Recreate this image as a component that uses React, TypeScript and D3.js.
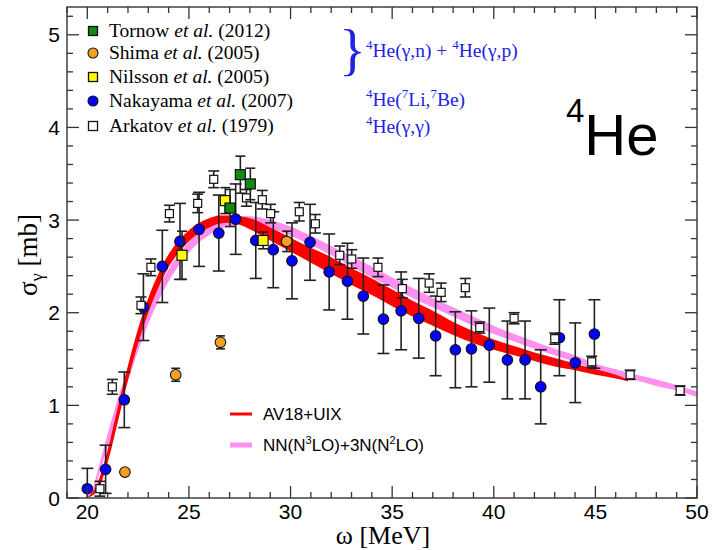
import React from 'react';
import * as d3 from 'd3';

// theory bands: energy grid, lower and upper edge (mb)
const av18E = [20.0, 20.5, 21.0, 21.5, 22.0, 22.5, 23.0, 23.5, 24.0, 24.5, 25.0, 25.5, 26.0, 26.5, 27.0, 27.5, 28, 29, 30, 31, 32, 33, 34, 35, 36, 37, 38, 39, 40, 41, 42, 43, 44, 45, 46, 46.6];
const av18Lo = [0, 0.08, 0.38, 0.82, 1.27, 1.67, 2.0, 2.27, 2.49, 2.65, 2.77, 2.86, 2.92, 2.96, 2.97, 2.95, 2.9, 2.78, 2.66, 2.54, 2.42, 2.3, 2.19, 2.07, 1.96, 1.86, 1.76, 1.67, 1.6, 1.54, 1.48, 1.42, 1.38, 1.33, 1.29, 1.26];
const av18Hi = [0, 0.16, 0.52, 0.98, 1.43, 1.83, 2.16, 2.42, 2.63, 2.78, 2.89, 2.97, 3.02, 3.05, 3.05, 3.04, 3.02, 2.92, 2.81, 2.7, 2.6, 2.48, 2.37, 2.25, 2.13, 2.02, 1.9, 1.8, 1.71, 1.64, 1.57, 1.51, 1.45, 1.39, 1.33, 1.28];

const chiE = [20.0, 20.3, 20.6, 21.0, 21.5, 22.0, 22.5, 23.0, 23.5, 24.0, 24.5, 25.0, 25.5, 26.0, 26.5, 27.0, 27.5, 28, 29, 30, 31, 32, 33, 34, 35, 36, 37, 38, 39, 40, 41, 42, 43, 44, 45, 46, 47, 48, 49, 50];
const chiLo = [0, 0.06, 0.27, 0.55, 0.91, 1.26, 1.59, 1.88, 2.13, 2.34, 2.51, 2.65, 2.76, 2.84, 2.9, 2.93, 2.95, 2.95, 2.91, 2.83, 2.73, 2.62, 2.5, 2.38, 2.27, 2.16, 2.06, 1.96, 1.86, 1.77, 1.69, 1.61, 1.54, 1.47, 1.38, 1.32, 1.27, 1.21, 1.16, 1.09];
const chiHi = [0.02, 0.13, 0.37, 0.69, 1.07, 1.41, 1.74, 2.03, 2.27, 2.47, 2.63, 2.76, 2.87, 2.95, 3.0, 3.03, 3.04, 3.04, 3.0, 2.93, 2.83, 2.72, 2.61, 2.5, 2.38, 2.27, 2.16, 2.06, 1.96, 1.86, 1.77, 1.69, 1.61, 1.54, 1.45, 1.39, 1.33, 1.28, 1.22, 1.15];

// measurements
const tornowE = [27.53, 28.02, 27.02];
const tornowS = [3.49, 3.39, 3.13];
const tornowErr = [0.2, 0.17, 0.2];

const shimaE = [21.85, 24.35, 26.55, 29.81];
const shimaS = [0.28, 1.33, 1.68, 2.77];
const shimaErr = [0.02, 0.07, 0.07, 0.11];

const nilssonE = [24.66, 26.79, 28.65];
const nilssonS = [2.62, 3.21, 2.78];
const nilssonErr = [0.26, 0.14, 0.09];

const nakaE = [20.0, 20.9, 21.82, 22.76, 23.69, 24.56, 25.5, 26.47, 27.3, 28.29, 29.15, 30.07, 30.96, 31.9, 32.8, 33.58, 34.57, 35.44, 36.31, 37.14, 38.11, 38.9, 39.78, 40.67, 41.54, 42.31, 43.23, 44.01, 44.95];
const nakaS = [0.1, 0.31, 1.06, 2.06, 2.5, 2.77, 2.9, 2.86, 3.01, 2.78, 2.68, 2.56, 2.76, 2.44, 2.34, 2.18, 1.93, 2.02, 1.94, 1.75, 1.6, 1.61, 1.65, 1.49, 1.49, 1.2, 1.73, 1.46, 1.77];
const nakaErr = [0.22, 0.26, 0.3, 0.36, 0.39, 0.41, 0.4, 0.41, 0.38, 0.41, 0.41, 0.41, 0.41, 0.41, 0.41, 0.41, 0.37, 0.42, 0.43, 0.43, 0.41, 0.41, 0.4, 0.42, 0.42, 0.4, 0.41, 0.43, 0.37];

const arkE = [20.62, 21.23, 22.64, 23.13, 24.04, 25.43, 26.22, 27.83, 28.61, 29.02, 30.43, 31.22, 32.42, 33.01, 34.3, 35.5, 36.82, 37.41, 38.6, 39.31, 41.0, 43.0, 44.82, 46.71, 49.17];
const arkS = [0.1, 1.2, 2.08, 2.49, 3.07, 3.18, 3.44, 3.24, 3.22, 3.07, 3.09, 2.96, 2.62, 2.58, 2.49, 2.26, 2.32, 2.22, 2.27, 1.84, 1.94, 1.72, 1.47, 1.33, 1.16];
const arkErr = [0.08, 0.08, 0.09, 0.09, 0.09, 0.1, 0.09, 0.09, 0.1, 0.1, 0.1, 0.1, 0.1, 0.1, 0.1, 0.1, 0.1, 0.1, 0.1, 0.06, 0.06, 0.06, 0.06, 0.05, 0.05];

const xMajor = [20, 25, 30, 35, 40, 45, 50];
const yMajor = [0, 1, 2, 3, 4, 5];

const W = 712;
const H = 550;
const left = 67, right = 697, top = 7, bottom = 498;

const x = d3.scaleLinear().domain([19, 50]).range([left, right]);
const y = d3.scaleLinear().domain([0, 5.3]).range([bottom, top]);

const serif = '"Liberation Serif", "Times New Roman", serif';
const sans = '"Liberation Sans", Arial, Helvetica, sans-serif';

type Band = { e: number; lo: number; hi: number };
const band = (es: number[], lo: number[], hi: number[]): Band[] => es.map((e, i) => ({ e, lo: lo[i], hi: hi[i] }));

const area = d3.area<Band>()
  .x((d) => x(d.e))
  .y0((d) => y(d.lo))
  .y1((d) => y(d.hi))
  .curve(d3.curveMonotoneX);

function ErrBars({ es, ss, errs, cap }: { es: number[]; ss: number[]; errs: number[]; cap: number }) {
  return (
    <g stroke="#222" strokeWidth={1.6}>
      {es.map((e, i) => {
        const cx = x(e);
        const y1 = y(ss[i] + errs[i]);
        const y2 = y(ss[i] - errs[i]);
        return (
          <g key={i}>
            <line x1={cx} x2={cx} y1={y1} y2={y2} />
            <line x1={cx - cap} x2={cx + cap} y1={y1} y2={y1} />
            <line x1={cx - cap} x2={cx + cap} y1={y2} y2={y2} />
          </g>
        );
      })}
    </g>
  );
}

function Circles({ es, ss, fill }: { es: number[]; ss: number[]; fill: string }) {
  return (
    <g>
      {es.map((e, i) => (
        <circle key={i} cx={x(e)} cy={y(ss[i])} r={5.3} fill={fill} stroke="#111" strokeWidth={1.1} />
      ))}
    </g>
  );
}

function Squares({ es, ss, fill, size }: { es: number[]; ss: number[]; fill: string; size: number }) {
  return (
    <g>
      {es.map((e, i) => (
        <rect key={i} x={x(e) - size / 2} y={y(ss[i]) - size / 2} width={size} height={size} fill={fill} stroke="#111" strokeWidth={1.2} />
      ))}
    </g>
  );
}

export default function App() {
  const xMinor = d3.range(19, 51, 1).filter((v) => !xMajor.includes(v));
  const yMinor = d3.range(0, 53, 2).map((v) => v / 10).filter((v) => v % 1 !== 0);

  const legend = [
    { name: 'Tornow', year: '(2012)', kind: 'sq', fill: '#108a10' },
    { name: 'Shima', year: '(2005)', kind: 'ci', fill: '#f5a020' },
    { name: 'Nilsson', year: '(2005)', kind: 'sq', fill: '#ffff00' },
    { name: 'Nakayama', year: '(2007)', kind: 'ci', fill: '#0000ff' },
    { name: 'Arkatov', year: '(1979)', kind: 'sq', fill: '#ffffff' },
  ];
  const legendY = [31, 53, 77, 101, 126];

  return (
    <svg width={W} height={H} style={{ position: 'absolute', left: 0, top: 0, background: '#fff' }}>
      <defs>
        <clipPath id="plot">
          <rect x={left} y={top} width={right - left} height={bottom - top} />
        </clipPath>
      </defs>

      <g clipPath="url(#plot)">
        <path d={area(band(chiE, chiLo, chiHi)) || ''} fill="#ff90f0" />
        <path d={area(band(av18E, av18Lo, av18Hi)) || ''} fill="#ff0000" />

        <ErrBars es={nakaE} ss={nakaS} errs={nakaErr} cap={6} />
        <Circles es={nakaE} ss={nakaS} fill="#0000ff" />

        <ErrBars es={arkE} ss={arkS} errs={arkErr} cap={5.5} />
        <Squares es={arkE} ss={arkS} fill="#ffffff" size={8} />

        <ErrBars es={shimaE} ss={shimaS} errs={shimaErr} cap={4.5} />
        <Circles es={shimaE} ss={shimaS} fill="#f5a020" />

        <ErrBars es={nilssonE} ss={nilssonS} errs={nilssonErr} cap={5} />
        <Squares es={nilssonE} ss={nilssonS} fill="#ffff00" size={10} />

        <ErrBars es={tornowE} ss={tornowS} errs={tornowErr} cap={5} />
        <Squares es={tornowE} ss={tornowS} fill="#108a10" size={10} />
      </g>

      {/* frame and ticks */}
      <rect x={left} y={top} width={right - left} height={bottom - top} fill="none" stroke="#333" strokeWidth={1.4} />
      <g stroke="#333" strokeWidth={1.3}>
        {xMajor.map((v) => (
          <g key={'xM' + v}>
            <line x1={x(v)} x2={x(v)} y1={bottom} y2={bottom - 12} />
            <line x1={x(v)} x2={x(v)} y1={top} y2={top + 12} />
          </g>
        ))}
        {xMinor.map((v) => (
          <g key={'xm' + v}>
            <line x1={x(v)} x2={x(v)} y1={bottom} y2={bottom - 6} />
            <line x1={x(v)} x2={x(v)} y1={top} y2={top + 6} />
          </g>
        ))}
        {yMajor.map((v) => (
          <g key={'yM' + v}>
            <line x1={left} x2={left + 12} y1={y(v)} y2={y(v)} />
            <line x1={right} x2={right - 12} y1={y(v)} y2={y(v)} />
          </g>
        ))}
        {yMinor.map((v) => (
          <g key={'ym' + v}>
            <line x1={left} x2={left + 6} y1={y(v)} y2={y(v)} />
            <line x1={right} x2={right - 6} y1={y(v)} y2={y(v)} />
          </g>
        ))}
      </g>

      {/* tick labels */}
      <g fontFamily={sans} fontSize={21} fill="#000">
        {xMajor.map((v) => (
          <text key={'xl' + v} x={x(v)} y={519} textAnchor="middle">{v}</text>
        ))}
        {yMajor.map((v) => (
          <text key={'yl' + v} x={60} y={y(v) + 7.5} textAnchor="end">{v}</text>
        ))}
      </g>

      {/* axis titles */}
      <text x={383} y={544} textAnchor="middle" fontFamily={serif} fontSize={26}>ω [MeV]</text>
      <text transform="translate(37,255) rotate(-90)" textAnchor="middle" fontFamily={serif} fontSize={27}>
        σ<tspan fontSize={18} dy={6}>γ</tspan><tspan dy={-6}> [mb]</tspan>
      </text>

      {/* data legend */}
      <g fontFamily={serif} fontSize={19.5}>
        {legend.map((d, i) => (
          <g key={d.name}>
            {d.kind === 'sq' ? (
              <rect x={93 - 4.5} y={legendY[i] - 4.5} width={9} height={9} fill={d.fill} stroke="#111" strokeWidth={1.3} />
            ) : (
              <circle cx={93} cy={legendY[i]} r={5} fill={d.fill} stroke="#111" strokeWidth={1.1} />
            )}
            <text x={109} y={legendY[i] + 6}>
              {d.name} <tspan fontStyle="italic">et al.</tspan> {d.year}
            </text>
          </g>
        ))}
      </g>

      {/* reaction labels */}
      <g fontFamily={serif} fill="#2222e6" fontSize={19.5}>
        <text x={339} y={69} fontSize={56}>{'}'}</text>
        <text x={366} y={57}>
          <tspan fontSize={13} dy={-8}>4</tspan><tspan dy={8}>He(γ,n) + </tspan><tspan fontSize={13} dy={-8}>4</tspan><tspan dy={8}>He(γ,p)</tspan>
        </text>
        <text x={366} y={106}>
          <tspan fontSize={13} dy={-8}>4</tspan><tspan dy={8}>He(</tspan><tspan fontSize={13} dy={-8}>7</tspan><tspan dy={8}>Li,</tspan><tspan fontSize={13} dy={-8}>7</tspan><tspan dy={8}>Be)</tspan>
        </text>
        <text x={366} y={133}>
          <tspan fontSize={13} dy={-8}>4</tspan><tspan dy={8}>He(γ,γ)</tspan>
        </text>
      </g>

      {/* nucleus label */}
      <text x={566} y={155} fontFamily={sans} fill="#000">
        <tspan fontSize={33} dy={-33}>4</tspan><tspan fontSize={58} dy={33}>He</tspan>
      </text>

      {/* theory legend */}
      <g fontFamily={sans} fontSize={17}>
        <line x1={230} x2={252} y1={414} y2={414} stroke="#ff0000" strokeWidth={3} />
        <text x={263} y={420}>AV18+UIX</text>
        <line x1={230} x2={252} y1={445} y2={445} stroke="#ff90f0" strokeWidth={5} />
        <text x={263} y={451}>
          NN(N<tspan fontSize={11} dy={-7}>3</tspan><tspan dy={7}>LO)+3N(N</tspan><tspan fontSize={11} dy={-7}>2</tspan><tspan dy={7}>LO)</tspan>
        </text>
      </g>
    </svg>
  );
}
